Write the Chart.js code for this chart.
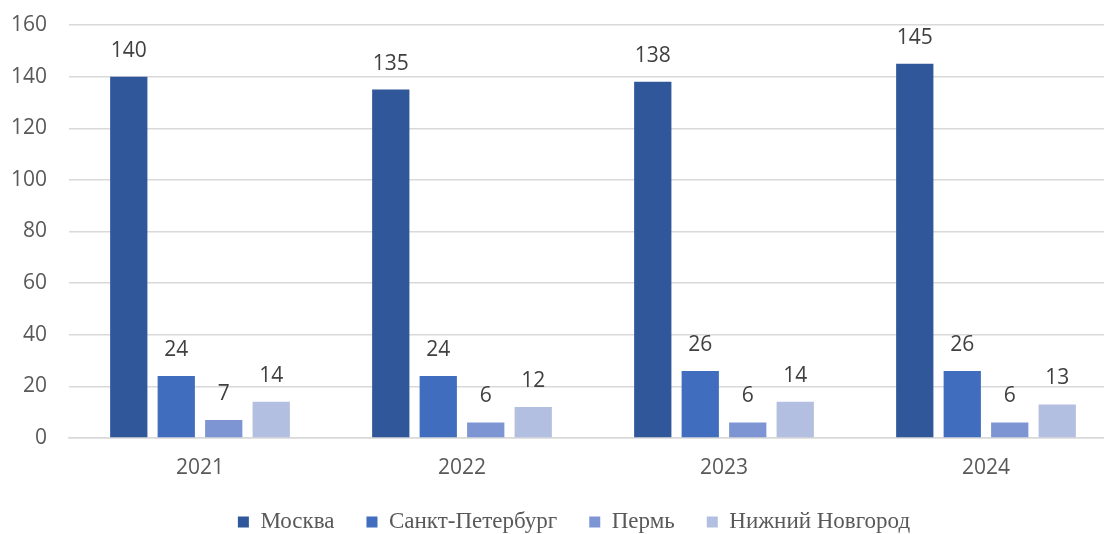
<!DOCTYPE html>
<html>
<head>
<meta charset="utf-8">
<script src="https://cdn.jsdelivr.net/npm/chart.js@4.4.1/dist/chart.umd.min.js"></script>
<style>
  html, body { margin: 0; padding: 0; background: #fff; overflow: hidden; }
  #wrap { width: 1150px; height: 534px; }
</style>
</head>
<body>
<div id="wrap"><canvas id="chart"></canvas></div>
<script>
const years = ['2021', '2022', '2023', '2024'];
const cities = ['Москва', 'Санкт-Петербург', 'Пермь', 'Нижний Новгород'];
const moscow = [140, 135, 138, 145];
const spb = [24, 24, 26, 26];
const perm = [7, 6, 6, 6];
const nnov = [14, 12, 14, 13];
const cityColors = ['#30579A', '#406DBE', '#7D95D3', '#B3BFE0'];

// value above every bar
const valueLabels = {
  id: 'valueLabels',
  afterDatasetsDraw(chart) {
    const ctx = chart.ctx;
    ctx.save();
    ctx.font = '21px "Open Sans", sans-serif';
    ctx.fillStyle = '#404040';
    ctx.textAlign = 'center';
    ctx.textBaseline = 'middle';
    chart.data.datasets.forEach((ds, i) => {
      const meta = chart.getDatasetMeta(i);
      meta.data.forEach((bar, j) => {
        ctx.fillText(String(ds.data[j]), bar.x, bar.y - 26);
      });
    });
    ctx.restore();
  },
};

const seriesData = [moscow, spb, perm, nnov];

new Chart(document.getElementById('chart'), {
  type: 'bar',
  data: {
    labels: years,
    datasets: cities.map((name, i) => ({
      label: name,
      data: seriesData[i],
      backgroundColor: cityColors[i],
      borderWidth: 0,
      categoryPercentage: 0.725,
      barPercentage: 0.785,
    })),
  },
  options: {
    responsive: true,
    maintainAspectRatio: false,
    animation: false,
    layout: { padding: { top: 25, right: 2, left: 0, bottom: 0 } },
    scales: {
      y: {
        min: 0,
        max: 160,
        ticks: {
          stepSize: 20,
          padding: 22,
          color: '#595959',
          font: { family: '"Open Sans", sans-serif', size: 21 },
        },
        grid: { color: '#D9D9D9', lineWidth: 1.5, drawTicks: false },
        border: { display: false },
        afterFit: (scale) => {
          scale.width = 69;
          scale.paddingTop = 0;
          scale.paddingBottom = 0;
        },
      },
      // empty right axis, only reserves space so the plot runs past the window edge
      yRight: {
        type: 'linear',
        position: 'right',
        ticks: { display: false },
        grid: { display: false, drawTicks: false },
        border: { display: false },
        afterFit: (scale) => {
          scale.width = 31;
          scale.paddingTop = 0;
          scale.paddingBottom = 0;
        },
      },
      x: {
        ticks: {
          padding: 17,
          color: '#595959',
          font: { family: '"Open Sans", sans-serif', size: 21 },
        },
        grid: { display: false, drawTicks: false },
        border: { color: '#D9D9D9', width: 1.5 },
        afterFit: (scale) => { scale.height = 40.5; },
      },
    },
    plugins: {
      tooltip: { enabled: false },
      legend: {
        position: 'bottom',
        maxHeight: 55.5,
        labels: {
          boxWidth: 11,
          boxHeight: 11,
          padding: 32,
          color: '#595959',
          font: { family: '"Liberation Serif", serif', size: 23 },
        },
      },
    },
  },
  plugins: [valueLabels],
});
</script>
</body>
</html>
